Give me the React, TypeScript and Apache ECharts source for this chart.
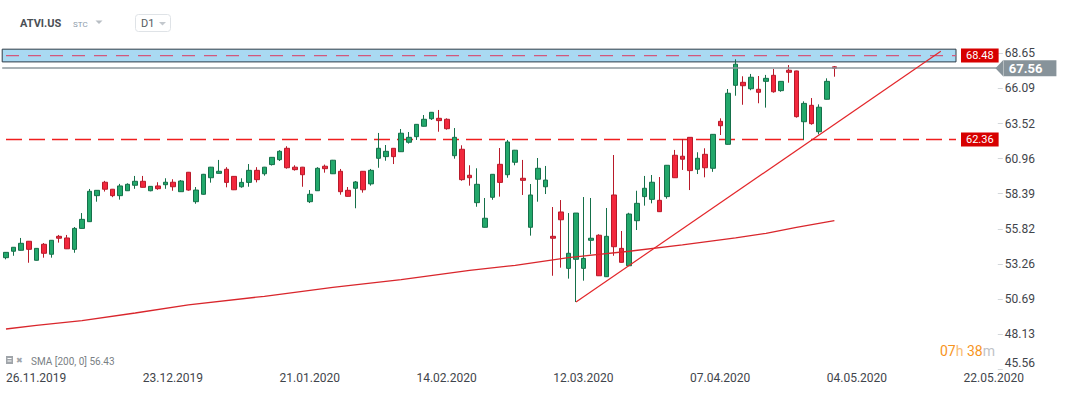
import React, { useEffect, useRef } from "react";
import * as echarts from "echarts";

// ---- x axis ----
const tickLabels = ["26.11.2019", "23.12.2019", "21.01.2020", "14.02.2020", "12.03.2020", "07.04.2020", "04.05.2020", "22.05.2020"];
const labelEvery = 18;
const slotCount = 131; // trading-day slots incl. empty future area
const categories = Array.from({ length: slotCount }, (_, i) => `d${i}`);

// ---- y axis ----
const yTicks = [45.56, 48.13, 50.69, 53.26, 55.82, 58.39, 60.96, 63.52, 66.09, 68.65];
const yMin = 45.56;
const yMax = 69.62;

// ---- candles ----
const open = [
  53.72, 54.19, 54.26, 54.92, 53.53, 54.70, 53.97, 55.28, 55.16, 54.33,
  55.86, 56.35, 58.25, 59.23, 58.72, 58.25, 58.61, 59.01, 59.30, 58.61,
  58.96, 59.05, 59.23, 58.54, 59.96, 57.81, 58.35, 59.56, 59.88, 60.18,
  59.66, 58.90, 59.22, 60.10, 59.85, 60.52, 60.88, 61.71, 60.33, 60.33,
  57.81, 58.61, 60.40, 59.85, 60.03, 58.64, 58.79, 60.03, 59.11, 60.98,
  61.10, 61.71, 61.46, 62.15, 62.56, 63.32, 63.87, 63.90, 63.83, 61.17,
  61.64, 59.74, 57.74, 55.94, 58.13, 60.54, 59.78, 60.69, 59.52, 55.94,
  59.45, 58.90, 55.28, 57.06, 52.94, 53.60, 52.94, 54.99, 55.36, 52.33,
  58.30, 54.40, 53.13, 56.42, 58.18, 57.98, 57.91, 58.18, 61.20, 61.13,
  62.51, 60.18, 61.27, 60.25, 63.68, 62.00, 66.31, 66.53, 66.06, 66.02,
  66.60, 67.04, 65.92, 67.41, 67.36, 63.65, 64.85, 62.92, 65.29, 67.66,
];
const close = [
  54.11, 54.48, 54.77, 54.33, 54.40, 54.04, 54.99, 55.14, 54.37, 55.86,
  56.52, 58.57, 58.64, 58.72, 58.25, 58.96, 59.08, 59.30, 58.86, 58.93,
  58.76, 59.23, 58.90, 59.32, 58.66, 58.66, 59.81, 60.33, 60.03, 59.22,
  58.68, 59.22, 60.10, 59.42, 60.33, 61.05, 61.49, 60.29, 60.15, 59.78,
  58.35, 60.25, 60.22, 60.84, 58.54, 58.20, 59.25, 58.68, 60.10, 61.71,
  61.49, 61.10, 62.81, 62.51, 63.46, 63.83, 64.34, 63.73, 63.14, 62.51,
  59.42, 59.56, 59.08, 56.60, 59.81, 59.22, 62.17, 61.57, 59.37, 58.30,
  60.25, 59.39, 55.14, 56.49, 54.04, 56.98, 53.67, 55.14, 52.40, 55.28,
  54.52, 53.38, 56.91, 57.69, 58.79, 59.23, 57.08, 60.47, 59.56, 60.91,
  60.08, 60.98, 60.29, 62.73, 63.36, 65.73, 67.85, 66.28, 66.90, 65.80,
  66.82, 65.84, 66.60, 67.26, 64.02, 64.99, 63.51, 64.71, 66.60, 67.56,
];
const low = [
  53.60, 53.86, 54.24, 53.35, 53.51, 53.72, 53.72, 54.82, 54.35, 54.08,
  55.84, 56.33, 57.81, 58.55, 58.14, 57.96, 58.59, 58.75, 58.84, 58.57,
  58.68, 58.75, 58.61, 58.52, 58.61, 57.66, 58.32, 59.20, 59.86, 58.86,
  58.66, 58.83, 58.90, 59.22, 59.71, 60.45, 60.78, 60.22, 60.08, 58.90,
  57.71, 58.59, 59.93, 59.83, 58.32, 58.18, 57.33, 58.47, 58.98, 60.29,
  60.80, 60.56, 61.44, 62.05, 62.32, 63.30, 63.78, 62.92, 63.07, 60.95,
  59.34, 58.98, 57.44, 55.92, 57.95, 58.18, 59.56, 60.47, 58.30, 55.33,
  57.81, 58.37, 52.40, 52.99, 52.19, 50.48, 52.04, 53.97, 52.38, 52.31,
  53.86, 53.36, 53.11, 55.74, 57.52, 57.69, 57.06, 58.03, 59.54, 60.13,
  58.66, 59.83, 59.59, 59.99, 62.68, 61.98, 65.55, 64.89, 65.95, 65.00,
  64.68, 65.77, 65.84, 66.50, 63.95, 62.34, 63.43, 62.73, 65.27, 66.94,
];
const high = [
  54.13, 54.50, 55.16, 54.94, 54.42, 54.79, 55.01, 55.38, 55.38, 55.96,
  56.98, 58.74, 58.66, 59.33, 58.74, 59.11, 59.15, 59.69, 59.69, 58.95,
  59.23, 59.52, 59.45, 59.39, 59.98, 58.88, 59.84, 60.35, 60.86, 60.33,
  59.68, 59.52, 60.56, 60.33, 60.35, 61.07, 61.57, 61.86, 60.47, 60.35,
  58.66, 60.33, 60.52, 60.86, 60.20, 58.88, 59.32, 60.05, 60.20, 62.83,
  61.95, 61.73, 63.12, 62.90, 63.48, 64.14, 64.36, 64.51, 63.90, 63.19,
  61.93, 60.47, 60.25, 58.08, 59.83, 61.73, 62.32, 61.59, 60.86, 59.10,
  61.00, 60.42, 57.42, 57.93, 56.98, 56.98, 58.15, 58.08, 55.43, 57.35,
  61.22, 55.67, 57.00, 58.61, 59.69, 59.76, 59.61, 60.49, 61.59, 62.39,
  62.53, 61.42, 61.71, 62.75, 63.90, 66.04, 68.21, 66.97, 67.14, 66.99,
  67.07, 67.50, 66.62, 67.79, 67.38, 65.14, 65.38, 64.92, 66.82, 67.72,
];

// ---- SMA(200) readings ----
const smaIndex = [0, 4, 10, 17, 24, 34, 43, 52, 61, 67, 74, 82, 89, 96, 100, 104, 109];
const smaValue = [48.51, 48.77, 49.13, 49.68, 50.28, 50.90, 51.55, 52.11, 52.80, 53.16, 53.73, 54.19, 54.65, 55.16, 55.50, 55.94, 56.43];

// ---- drawn levels ----
const trendIndex = [75, 123];
const trendValue = [50.48, 68.80];
const zoneTop = 68.95;
const zoneBottom = 68.02;
const zoneLevel = 68.48;
const supportLevel = 62.36;
const lastPrice = 67.56;
const levelStartIndex = 0;
const levelEndIndex = 125;
const smaLabel = "SMA [200, 0] 56.43";

const FONT = "Roboto, 'Noto Sans', sans-serif";

export default function App() {
  const ref = useRef<HTMLDivElement>(null);
  useEffect(() => {
    document.body.style.margin = "0";
    const chart = echarts.init(ref.current as HTMLDivElement, null, { renderer: "svg" });
    const candles = open.map((o, i) => [o, close[i], low[i], high[i]]);
    const sma = smaIndex.map((x, i) => [x, smaValue[i]]);
    const trend = trendIndex.map((x, i) => [x, trendValue[i]]);

    const levelSeries = (value: number, color: string, dash: number[], width: number, z: number) => ({
      type: "line",
      data: [
        [levelStartIndex, value],
        [levelEndIndex, value],
      ],
      showSymbol: false,
      symbol: "none",
      silent: true,
      z,
      itemStyle: { color },
      lineStyle: { color, type: dash, width, opacity: 1 },
      endLabel: {
        show: true,
        distance: 5,
        formatter: value.toFixed(2),
        backgroundColor: "#d70000",
        color: "#ffffff",
        padding: [2, 5, 1, 5],
        fontSize: 11,
        fontFamily: FONT,
      },
    });

    const option: any = {
      animation: false,
      backgroundColor: "#ffffff",
      grid: { left: 2.2, right: 69.2, top: 40, bottom: 25.6 },
      xAxis: {
        type: "category",
        data: categories,
        boundaryGap: true,
        axisLine: { show: false },
        axisTick: { show: false },
        splitLine: { show: false },
        axisLabel: {
          interval: labelEvery - 1,
          formatter: (_v: string, i: number) => tickLabels[i / labelEvery] ?? "",
          align: "left",
          color: "#3f454b",
          fontSize: 12,
          fontFamily: FONT,
          margin: 3,
        },
      },
      yAxis: {
        type: "value",
        position: "right",
        min: yMin,
        max: yMax,
        axisLine: { show: false },
        splitLine: { show: false },
        axisTick: { show: true, customValues: yTicks, length: 5, lineStyle: { color: "#d3d7da" } },
        axisLabel: {
          customValues: yTicks,
          formatter: (v: number) => v.toFixed(2),
          color: "#3f454b",
          fontSize: 12,
          fontFamily: FONT,
          margin: 7,
          verticalAlignMinLabel: "bottom",
        },
      },
      series: [
        {
          type: "candlestick",
          data: candles,
          barWidth: 5,
          z: 3,
          itemStyle: {
            color: "#22a86b",
            color0: "#f2283d",
            borderColor: "#15704a",
            borderColor0: "#b81a2a",
            borderWidth: 1,
          },
          markArea: {
            silent: true,
            itemStyle: { color: "#a9d9f2", borderColor: "#2f3c47", borderWidth: 1 },
            data: [[{ yAxis: zoneTop }, { xAxis: levelEndIndex, yAxis: zoneBottom }]],
          },
          markLine: {
            silent: true,
            symbol: ["none", "none"],
            lineStyle: { color: "#8c979c", type: "solid", width: 1.5 },
            data: [
              {
                yAxis: lastPrice,
                label: {
                  show: true,
                  position: "end",
                  distance: 6,
                  formatter: lastPrice.toFixed(2),
                  backgroundColor: "#87939a",
                  color: "#ffffff",
                  fontWeight: "bold",
                  fontSize: 13,
                  fontFamily: FONT,
                  padding: [2, 14, 1, 5],
                },
              },
            ],
          },
          markPoint: {
            silent: true,
            symbol: "triangle",
            symbolSize: [17, 8],
            symbolRotate: 90,
            symbolOffset: [5.5, 0],
            itemStyle: { color: "#87939a" },
            label: { show: false },
            data: [{ coord: [slotCount - 1, lastPrice] }],
          },
        },
        levelSeries(supportLevel, "#f01e1e", [16, 7], 1.5, 2),
        levelSeries(zoneLevel, "#d2587c", [13, 9], 1.3, 4),
        {
          type: "line",
          data: sma,
          showSymbol: false,
          symbol: "none",
          silent: true,
          lineStyle: { color: "#d9262c", width: 1.3 },
          z: 4,
        },
        {
          type: "line",
          data: trend,
          showSymbol: false,
          symbol: "none",
          silent: true,
          lineStyle: { color: "#e3262a", width: 1.2 },
          z: 5,
        },
      ],
      graphic: [
        { type: "text", x: 20, y: 23, style: { text: "ATVI.US", fill: "#4a4f55", fontSize: 11, fontWeight: "bold", fontFamily: FONT, verticalAlign: "middle" } },
        { type: "text", x: 73, y: 24, style: { text: "STC", fill: "#8d9bab", fontSize: 8, fontFamily: FONT, verticalAlign: "middle" } },
        { type: "polygon", shape: { points: [[95.5, 20.5], [102.5, 20.5], [99, 24]] }, style: { fill: "#b8bec4" } },
        { type: "rect", shape: { x: 135.5, y: 14.5, width: 35, height: 17, r: 3 }, style: { fill: "#ffffff", stroke: "#dfe3e7", lineWidth: 1 } },
        { type: "text", x: 141, y: 23.5, style: { text: "D1", fill: "#555b61", fontSize: 11, fontFamily: FONT, verticalAlign: "middle" } },
        { type: "polygon", shape: { points: [[159, 22], [166, 22], [162.5, 25.5]] }, style: { fill: "#c3c8cd" } },
        { type: "rect", shape: { x: 6, y: 356, width: 7, height: 8 }, style: { fill: "#a0a5aa" } },
        { type: "rect", shape: { x: 7.5, y: 358, width: 4, height: 1 }, style: { fill: "#ffffff" } },
        { type: "rect", shape: { x: 7.5, y: 360.5, width: 4, height: 1 }, style: { fill: "#ffffff" } },
        { type: "text", x: 16, y: 360, style: { text: "✖", fill: "#a0a5aa", fontSize: 8, fontFamily: "DejaVu Sans", verticalAlign: "middle" } },
        { type: "text", x: 31, y: 361, style: { text: smaLabel, fill: "#7a7f85", fontSize: 10, fontFamily: FONT, verticalAlign: "middle" } },
        {
          type: "text",
          x: 940,
          y: 351,
          style: {
            text: "{o|07}{l|h} {o|38}{g|m}",
            verticalAlign: "middle",
            fontFamily: FONT,
            fontSize: 14,
            rich: {
              o: { fill: "#f7941d", fontSize: 14, fontFamily: FONT },
              l: { fill: "#f9bd74", fontSize: 14, fontFamily: FONT },
              g: { fill: "#bfc3c7", fontSize: 14, fontFamily: FONT },
            },
          },
        },
      ],
    };
    chart.setOption(option);
    return () => chart.dispose();
  }, []);
  return <div ref={ref} style={{ width: 1067, height: 395, background: "#ffffff" }} />;
}
